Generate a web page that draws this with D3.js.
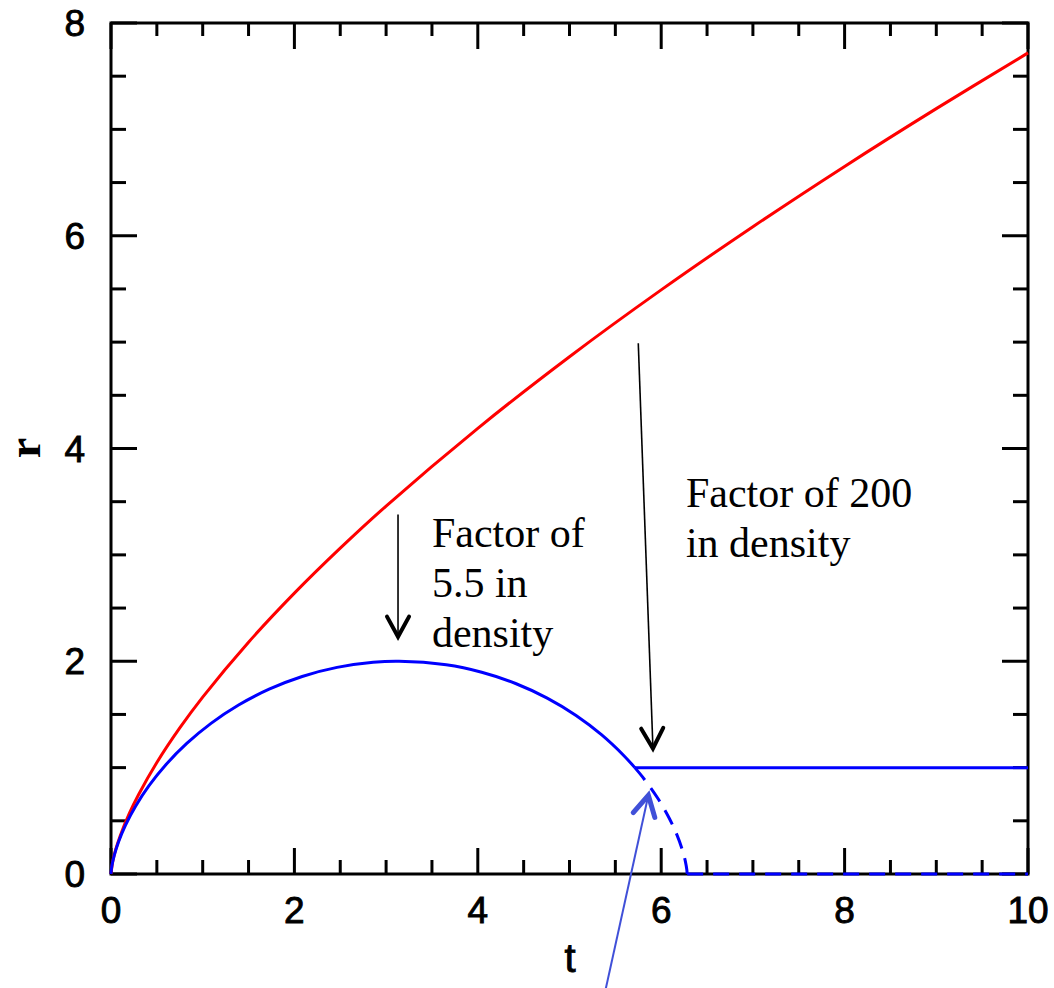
<!DOCTYPE html>
<html>
<head>
<meta charset="utf-8">
<script src="https://cdn.jsdelivr.net/npm/d3@7"></script>
<style>
  body { margin: 0; background: #fff; }
  svg { display: block; }
</style>
</head>
<body>
<div class="chart"></div>
<script>
// r(t) of the outer shell
var red_t = [0, 0.02, 0.05, 0.1, 0.2, 0.3, 0.5, 0.75, 1, 1.5, 2, 2.5, 3, 4, 5, 6, 7, 8, 9, 10];
var red_r = [0, 0.123, 0.226, 0.358, 0.569, 0.745, 1.048, 1.373, 1.663, 2.179, 2.640, 3.063, 3.459, 4.190, 4.863, 5.491, 6.085, 6.652, 7.195, 7.719];

// inner shell, solid part (rise, turn-around, then frozen at r = 1)
var blue_t = [0, 0.0013, 0.0106, 0.0354, 0.0826, 0.1585, 0.268, 0.4146, 0.6004, 0.8262, 1.0907, 1.3915, 1.7245, 2.0845, 2.465, 2.8589, 3.1416, 3.6555, 4.0425, 4.4119, 4.7568, 5.0716, 5.3516, 5.5937, 5.7124];
var blue_r = [0, 0.0199, 0.0789, 0.1747, 0.3033, 0.4597, 0.6376, 0.83, 1.0292, 1.2272, 1.4161, 1.5885, 1.7374, 1.8569, 1.9422, 1.99, 2, 1.9668, 1.8968, 1.791, 1.6536, 1.4903, 1.3073, 1.1122, 1];
var flat_t = [5.7124, 10];
var flat_r = [1, 1];

// dashed: collapse it would have had without the stall
var dash_t = [5.7124, 5.7962, 5.9589, 6.0835, 6.1728, 6.2313, 6.2646, 6.2794, 6.2832];
var dash_r = [1, 0.9125, 0.7163, 0.5315, 0.3653, 0.2244, 0.1145, 0.0398, 0];
var dash0_t = [6.2832, 10];
var dash0_r = [0, 0];

var x_ticks = [0, 2, 4, 6, 8, 10];
var y_ticks = [0, 2, 4, 6, 8];

var notes = [
  { lines: ["Factor of", "5.5 in", "density"], t: 3.5, r: 3.07 },
  { lines: ["Factor of 200", "in density"], t: 6.27, r: 3.45 }
];
var arrows = [
  { t0: 3.13, r0: 3.38, t1: 3.13, r1: 2.23, color: "#000", w: 1.6, hw: 4 },
  { t0: 5.75, r0: 4.99, t1: 5.91, r1: 1.18, color: "#000", w: 1.6, hw: 4 },
  { t0: 5.39, r0: -1.1, t1: 5.86, r1: 0.74, color: "#4050d8", w: 2, hw: 5 }
];

var width = 1054, height = 988;
var margin = { top: 23, right: 26, bottom: 114, left: 111 };
var w = width - margin.left - margin.right;
var h = height - margin.top - margin.bottom;

var svg = d3.select(".chart").append("svg")
  .attr("width", width)
  .attr("height", height);

var g = svg.append("g")
  .attr("transform", "translate(" + margin.left + "," + margin.top + ")");

var x = d3.scaleLinear().domain([0, 10]).range([0, w]);
var y = d3.scaleLinear().domain([0, 8]).range([h, 0]);

// frame with inward ticks on all four sides
var xminor = d3.range(0, 10.01, 0.5);
var yminor = d3.range(0, 8.01, 0.5);
var isMajor = function (v) { return Math.abs(v / 2 - Math.round(v / 2)) < 1e-6; };

var axisG = g.append("g").attr("stroke", "#000").attr("stroke-width", 3);

axisG.selectAll(".xb").data(xminor).enter().append("line")
  .attr("x1", d => x(d)).attr("x2", d => x(d))
  .attr("y1", h).attr("y2", d => h - (isMajor(d) ? 26 : 14));
axisG.selectAll(".xt").data(xminor).enter().append("line")
  .attr("x1", d => x(d)).attr("x2", d => x(d))
  .attr("y1", 0).attr("y2", d => (isMajor(d) ? 26 : 13));
axisG.selectAll(".yl").data(yminor).enter().append("line")
  .attr("y1", d => y(d)).attr("y2", d => y(d))
  .attr("x1", 0).attr("x2", d => (isMajor(d) ? 26 : 15));
axisG.selectAll(".yr").data(yminor).enter().append("line")
  .attr("y1", d => y(d)).attr("y2", d => y(d))
  .attr("x1", w).attr("x2", d => w - (isMajor(d) ? 26 : 15));

g.append("rect")
  .attr("width", w).attr("height", h)
  .attr("fill", "none").attr("stroke", "#000").attr("stroke-width", 3);

// tick labels
g.selectAll(".xlab").data(x_ticks).enter().append("text")
  .attr("x", d => x(d)).attr("y", h + 49)
  .attr("text-anchor", "middle")
  .style("font-family", "'Liberation Sans', Arial, sans-serif")
  .style("font-size", "37px")
  .style("stroke", "#000").style("stroke-width", 0.9)
  .text(d => d);

g.selectAll(".ylab").data(y_ticks).enter().append("text")
  .attr("x", -26).attr("y", d => y(d) + 13)
  .attr("text-anchor", "end")
  .style("font-family", "'Liberation Sans', Arial, sans-serif")
  .style("font-size", "37px")
  .style("stroke", "#000").style("stroke-width", 0.9)
  .text(d => d);

svg.append("text")
  .attr("x", 570).attr("y", 972)
  .attr("text-anchor", "middle")
  .style("font-family", "'Liberation Sans', Arial, sans-serif")
  .style("font-size", "40px")
  .style("stroke", "#000").style("stroke-width", 0.9)
  .text("t");

svg.append("text")
  .attr("transform", "translate(40,448) rotate(-90)")
  .attr("text-anchor", "middle")
  .style("font-family", "'Liberation Serif', 'Times New Roman', serif")
  .style("font-size", "46px")
  .style("font-weight", "bold")
  .text("r");

// curves
var line = d3.line()
  .x(d => x(d[0]))
  .y(d => y(d[1]))
  .curve(d3.curveCatmullRom.alpha(0.5));

var zip = (a, b) => a.map((v, i) => [v, b[i]]);

var curves = [
  { pts: zip(red_t, red_r), color: "red", dash: null },
  { pts: zip(blue_t, blue_r), color: "blue", dash: null },
  { pts: zip(flat_t, flat_r), color: "blue", dash: null },
  { pts: zip(dash_t, dash_r), color: "blue", dash: "16,10" },
  { pts: zip(dash0_t, dash0_r), color: "blue", dash: "16,10" }
];

g.selectAll(".curve").data(curves).enter().append("path")
  .attr("class", "curve")
  .attr("d", d => line(d.pts))
  .attr("fill", "none")
  .attr("stroke", d => d.color)
  .attr("stroke-width", 3)
  .attr("stroke-dasharray", d => d.dash);

// annotations
notes.forEach(function (n) {
  var t = g.append("text")
    .attr("x", x(n.t)).attr("y", y(n.r))
    .style("font-family", "'Liberation Serif', 'Times New Roman', serif")
    .style("font-size", "42px");
  n.lines.forEach(function (s, i) {
    t.append("tspan").attr("x", x(n.t)).attr("dy", i === 0 ? 0 : 50).text(s);
  });
});

arrows.forEach(function (a) {
  var x0 = x(a.t0), y0 = y(a.r0), x1 = x(a.t1), y1 = y(a.r1);
  var ang = Math.atan2(y1 - y0, x1 - x0);
  var len = 23, spread = 0.5;
  var left = [x1 - len * Math.cos(ang - spread), y1 - len * Math.sin(ang - spread)];
  var right = [x1 - len * Math.cos(ang + spread), y1 - len * Math.sin(ang + spread)];
  g.append("line")
    .attr("x1", x0).attr("y1", y0).attr("x2", x1).attr("y2", y1)
    .attr("stroke", a.color).attr("stroke-width", a.w);
  g.append("path")
    .attr("d", d3.line()([left, [x1, y1], right]))
    .attr("fill", "none")
    .attr("stroke", a.color)
    .attr("stroke-width", a.hw)
    .attr("stroke-linecap", "round")
    .attr("stroke-linejoin", "miter");
});
</script>
</body>
</html>
